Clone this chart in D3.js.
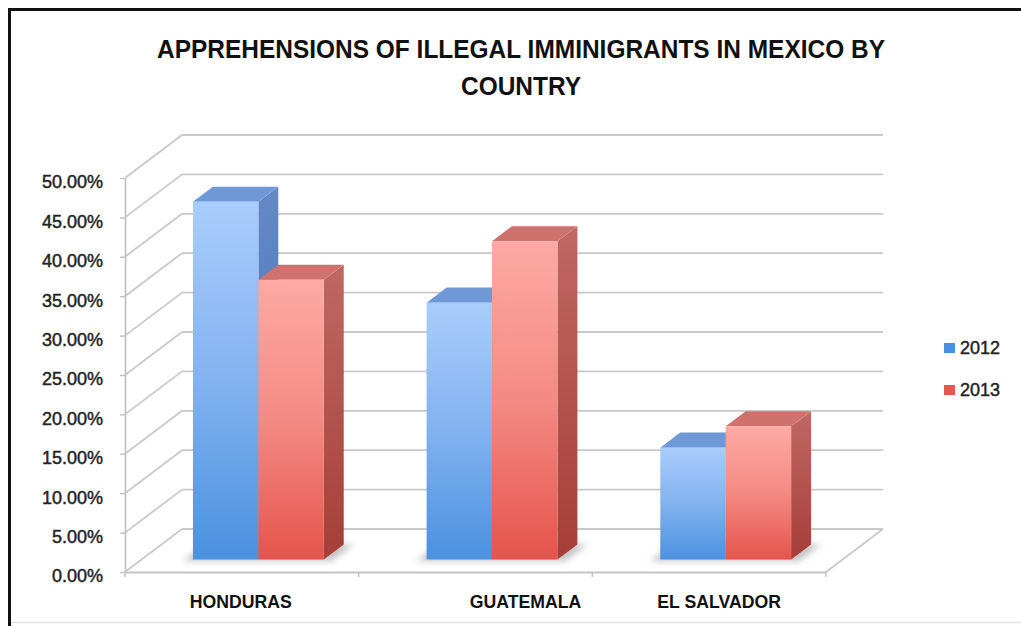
<!DOCTYPE html>
<html>
<head>
<meta charset="utf-8">
<script src="https://cdn.jsdelivr.net/npm/d3@7"></script>
<style>
  html, body { margin: 0; padding: 0; background: #fff; }
  svg { display: block; }
</style>
</head>
<body>
<svg id="chart" width="1021" height="626"></svg>
<script>
// Share of apprehensions in Mexico by country of origin
const categories = ["HONDURAS", "GUATEMALA", "EL SALVADOR"];
const seriesNames = ["2012", "2013"];
const values2012 = [0.454, 0.326, 0.142];
const values2013 = [0.355, 0.404, 0.169];
const yTicks = [0, 0.05, 0.10, 0.15, 0.20, 0.25, 0.30, 0.35, 0.40, 0.45, 0.50];
const titleLines = ["APPREHENSIONS OF ILLEGAL IMMINIGRANTS IN MEXICO BY", "COUNTRY"];

const series = [values2012, values2013];

const svg = d3.select("#chart");
const W = 1021, H = 626;

// ---- plot geometry (front plane + depth vector for the 3-D box) ----
const X0 = 125, X1 = 826, Y0 = 572, Ytop = 178;
const DX = 57, DY = -43;              // full depth of the floor
const zFront = 0.29, zBack = 0.64;    // depth slot occupied by the bars

const y = d3.scaleLinear().domain([0, 0.5]).range([Y0, Ytop]);
const x0 = d3.scaleBand().domain(categories).range([X0, X1]);
const groupPad = x0.bandwidth() * 0.22;
const x1 = d3.scaleBand().domain(seriesNames).range([groupPad, x0.bandwidth() - groupPad]);

// project a point (front-plane x, value, depth fraction) to screen
const P = (x, v, z) => [x + z * DX, y(v) + z * DY];
const poly = pts => pts.map(p => p.join(",")).join(" ");

// ---- defs: gradients and shadow blur ----
const defs = svg.append("defs");
function vGrad(id, stops) {
  const g = defs.append("linearGradient").attr("id", id)
    .attr("x1", 0).attr("y1", 0).attr("x2", 0).attr("y2", 1);
  stops.forEach(([o, c]) => g.append("stop").attr("offset", o).attr("stop-color", c));
}
vGrad("blueFront", [[0, "#a9cdfb"], [0.5, "#82b2f0"], [1, "#4a91df"]]);
vGrad("redFront",  [[0, "#fea9a4"], [0.5, "#f38a83"], [1, "#e5544b"]]);
vGrad("blueSide",  [[0, "#6489c6"], [1, "#3f6db5"]]);
vGrad("redSide",   [[0, "#c06864"], [1, "#a63e38"]]);
defs.append("filter").attr("id", "shadowBlur")
  .attr("x", "-20%").attr("y", "-50%").attr("width", "140%").attr("height", "200%")
  .append("feGaussianBlur").attr("stdDeviation", 3);

const palette = {
  "2012": { front: "url(#blueFront)", top: "#6f98d6", side: "url(#blueSide)", key: "#4a90e0" },
  "2013": { front: "url(#redFront)",  top: "#cf716c", side: "url(#redSide)",  key: "#e8564f" }
};

const FONT = "'Liberation Sans', Arial, sans-serif";

// ---- frame ----
svg.append("rect").attr("x", 0).attr("y", 0).attr("width", W).attr("height", H).attr("fill", "#fff");
svg.append("line").attr("x1", 8).attr("x2", W).attr("y1", 9.5).attr("y2", 9.5)
  .attr("stroke", "#111").attr("stroke-width", 3);
svg.append("line").attr("x1", 9.5).attr("x2", 9.5).attr("y1", 8).attr("y2", H)
  .attr("stroke", "#111").attr("stroke-width", 3);
svg.append("line").attr("x1", 11).attr("x2", W).attr("y1", 622.5).attr("y2", 622.5)
  .attr("stroke", "#e4e4e4").attr("stroke-width", 1.5);

// ---- title (condensed bold) ----
const title = svg.append("g").attr("font-family", FONT)
  .attr("font-weight", "bold").attr("font-size", 26).attr("fill", "#111")
  .attr("text-anchor", "middle");
const t1 = title.append("text").attr("x", 521).attr("y", 58).text(titleLines[0]);
const t2 = title.append("text").attr("x", 521).attr("y", 95).text(titleLines[1]);
const squeeze = 728 / t1.node().getComputedTextLength();
t1.attr("textLength", 728).attr("lengthAdjust", "spacingAndGlyphs");
t2.attr("textLength", t2.node().getComputedTextLength() * squeeze).attr("lengthAdjust", "spacingAndGlyphs");

// ---- walls: gridlines on back wall and side wall ----
const grid = svg.append("g").attr("stroke", "#c9c9c9").attr("stroke-width", 1.8).attr("fill", "none");
grid.selectAll("line.back").data(yTicks).join("line").attr("class", "back")
  .attr("x1", d => P(X0, d, 1)[0]).attr("y1", d => P(X0, d, 1)[1])
  .attr("x2", d => P(X1, d, 1)[0]).attr("y2", d => P(X1, d, 1)[1]);
grid.selectAll("line.side").data(yTicks).join("line").attr("class", "side")
  .attr("x1", d => P(X0, d, 0)[0]).attr("y1", d => P(X0, d, 0)[1])
  .attr("x2", d => P(X0, d, 1)[0]).attr("y2", d => P(X0, d, 1)[1]);

// floor outline (right edge)
grid.append("line")
  .attr("x1", P(X1, 0, 0)[0]).attr("y1", P(X1, 0, 0)[1])
  .attr("x2", P(X1, 0, 1)[0]).attr("y2", P(X1, 0, 1)[1]);

// ---- y axis (front edge) ----
const yAxis = d3.axisLeft(y).tickValues(yTicks).tickFormat(d3.format(".2%"))
  .tickSizeInner(5).tickSizeOuter(0).tickPadding(17);
const yg = svg.append("g").attr("transform", `translate(${X0},0)`).call(yAxis);
yg.select(".domain").attr("stroke", "#c4c4c4").attr("stroke-width", 1.8);
yg.selectAll(".tick line").attr("stroke", "#c4c4c4").attr("stroke-width", 1.5);
yg.selectAll(".tick text")
  .attr("font-family", FONT).attr("font-size", 18)
  .attr("fill", "#222").attr("stroke", "#222").attr("stroke-width", 0.45)
  .attr("dy", "0.55em");

// ---- x axis (front edge of floor) ----
const xAxis = d3.axisBottom(x0).tickSize(0).tickFormat("");
const xg = svg.append("g").attr("transform", `translate(0,${Y0})`).call(xAxis);
xg.select(".domain").attr("stroke", "#c4c4c4").attr("stroke-width", 1.8);
const bounds = x0.domain().map(d => x0(d)).concat([X1]);
xg.selectAll("line.sep").data(bounds).join("line").attr("class", "sep")
  .attr("x1", d => d).attr("x2", d => d).attr("y1", 0).attr("y2", 5)
  .attr("stroke", "#c4c4c4").attr("stroke-width", 1.5);

// category labels (condensed bold)
const labelNudge = [-1, 50, 10];
const catLabels = svg.append("g").selectAll("text").data(categories).join("text")
  .attr("x", (d, i) => x0(d) + x0.bandwidth() / 2 + labelNudge[i])
  .attr("y", 608)
  .attr("text-anchor", "middle")
  .attr("font-family", FONT)
  .attr("font-weight", "bold").attr("font-size", 19).attr("fill", "#111")
  .text(d => d);
catLabels.each(function () {
  const w = this.getComputedTextLength();
  d3.select(this).attr("textLength", w * 0.93).attr("lengthAdjust", "spacingAndGlyphs");
});

// ---- bars ----
const bars = [];
categories.forEach((c, ci) => {
  seriesNames.forEach((s, si) => {
    const xa = x0(c) + x1(s);
    bars.push({ cat: c, key: s, v: series[si][ci], xa, xb: xa + x1.bandwidth() });
  });
});

// soft shadow under each group
const shadows = svg.append("g").attr("filter", "url(#shadowBlur)");
categories.forEach(c => {
  const xa = x0(c) + x1(seriesNames[0]) - 8;
  const xb = x0(c) + x1(seriesNames[1]) + x1.bandwidth() + 10;
  shadows.append("polygon")
    .attr("points", poly([P(xa, 0, zFront - 0.04), P(xb, 0, zFront - 0.04), P(xb, 0, zBack), P(xa, 0, zBack)]))
    .attr("fill", "#555").attr("opacity", 0.35);
});

const barG = svg.append("g").selectAll("g").data(bars).join("g");
barG.append("polygon")
  .attr("points", d => poly([P(d.xb, d.v, zFront), P(d.xb, d.v, zBack), P(d.xb, 0, zBack), P(d.xb, 0, zFront)]))
  .attr("fill", d => palette[d.key].side);
barG.append("polygon")
  .attr("points", d => poly([P(d.xa, d.v, zFront), P(d.xb, d.v, zFront), P(d.xb, d.v, zBack), P(d.xa, d.v, zBack)]))
  .attr("fill", d => palette[d.key].top);
barG.append("polygon")
  .attr("points", d => poly([P(d.xa, d.v, zFront), P(d.xb, d.v, zFront), P(d.xb, 0, zFront), P(d.xa, 0, zFront)]))
  .attr("fill", d => palette[d.key].front);

// ---- legend ----
const legend = svg.append("g").selectAll("g").data(seriesNames).join("g")
  .attr("transform", (d, i) => `translate(944,${343 + i * 42})`);
legend.append("rect").attr("width", 11).attr("height", 10).attr("fill", d => palette[d].key);
legend.append("text").attr("x", 16).attr("y", 11)
  .attr("font-family", FONT).attr("font-size", 18)
  .attr("fill", "#222").attr("stroke", "#222").attr("stroke-width", 0.45)
  .text(d => d);
</script>
</body>
</html>
